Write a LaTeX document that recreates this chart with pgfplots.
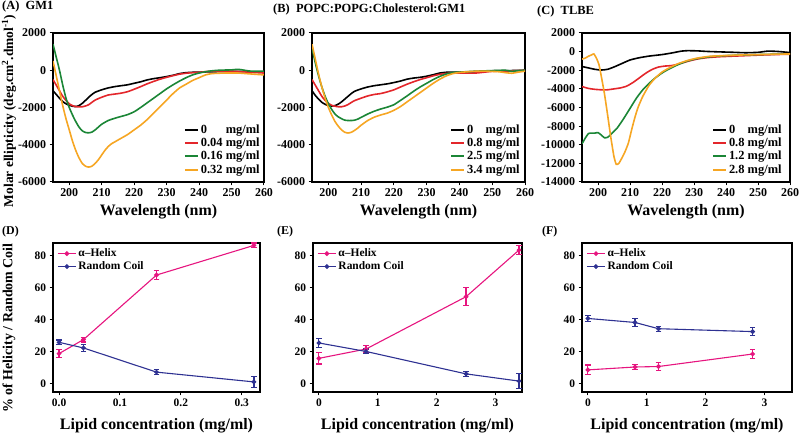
\documentclass[border=0pt]{standalone}
\usepackage{pgfplots}
\pgfplotsset{compat=1.18}
\usepackage{fontspec}
\setmainfont{Liberation Serif}
\definecolor{cdred}{HTML}{E3262B}
\definecolor{cdgreen}{HTML}{1B8636}
\definecolor{cdorange}{HTML}{F6A623}
\definecolor{helix}{HTML}{E6157F}
\definecolor{coil}{HTML}{2E3192}
\pgfplotsset{
  base/.style={scale only axis, axis line style={line width=1.3bp},
    tick style={line width=1bp, black}, tick align=outside, major tick length=3.5bp,
    xtick pos=bottom, ytick pos=left, scaled y ticks=false, scaled x ticks=false,
    /pgf/number format/assume math mode=true, /pgf/number format/1000 sep={},
    clip=true},
  cd/.style={base, width=211bp, height=149bp, xmin=195, xmax=260,
    xtick={200,210,...,260},
    ticklabel style={font=\fontsize{12}{13}\selectfont\bfseries},
    legend cell align=left,
    legend style={draw=none, fill=none, font=\fontsize{12.5}{12.5}\selectfont\bfseries,
      anchor=south east, inner sep=0pt, row sep=-0.8bp},
    legend image code/.code={\draw[#1, line width=2bp] (0bp,0bp) -- (13bp,0bp);},
    every axis plot/.append style={line width=1.6bp, smooth, tension=0.35}},
  frac/.style={base, width=209bp, height=149bp, ymin=-5, ymax=88,
    ytick={0,20,...,80},
    ticklabel style={font=\fontsize{11.5}{13}\selectfont\bfseries},
    legend cell align=left,
    legend style={draw=none, fill=none, font=\fontsize{11.5}{12}\selectfont\bfseries,
      at={(0.02,0.975)}, anchor=north west, inner sep=0pt, row sep=-0.5bp},
    legend image code/.code={\draw[mark repeat=2,mark phase=2,#1] plot coordinates {(0bp,0bp) (9bp,0bp) (18bp,0bp)};},
    every axis plot/.append style={line width=1.1bp, mark=*, mark size=1.8bp,
      error bars/y dir=both, error bars/y explicit,
      error bars/error bar style={line width=1.2bp},
      error bars/error mark options={rotate=90, mark size=2.8bp, line width=1.2bp}}},
}
\begin{document}
\begin{tikzpicture}[x=1bp,y=1bp]
\path[use as bounding box] (0,0) rectangle (800,435);
% ---------------- (A)
\begin{axis}[cd, at={(53bp,253bp)}, anchor=south west, ymin=-6000, ymax=2000,
  ytick={-6000,-4000,...,2000}, legend style={at={(0.99,0.035)}}]
\addplot[black] coordinates {(195,-1100) (196,-1300) (197,-1500) (198,-1680) (199,-1800) (200,-1880) (201,-1930) (202,-1950) (203,-1900) (204,-1780) (205,-1620) (206,-1450) (207,-1300) (208,-1180) (210,-1050) (212,-950) (214,-880) (216,-830) (218,-780) (220,-700) (222,-620) (224,-520) (226,-450) (228,-400) (230,-340) (232,-270) (234,-180) (236,-130) (238,-110) (240,-100) (245,-80) (250,-60) (255,-80) (260,-100)};
\addplot[cdred] coordinates {(195,-500) (196,-800) (197,-1100) (198,-1400) (199,-1620) (200,-1800) (201,-1900) (202,-1950) (203,-1970) (204,-1960) (205,-1920) (206,-1850) (207,-1720) (208,-1600) (210,-1450) (212,-1330) (214,-1280) (216,-1230) (218,-1150) (220,-1020) (222,-880) (224,-730) (226,-600) (228,-480) (230,-380) (232,-290) (234,-210) (236,-160) (238,-130) (240,-110) (243,-60) (246,-40) (250,-50) (255,-100) (260,-150)};
\addplot[cdgreen] coordinates {(195,1400) (196,700) (197,0) (198,-800) (199,-1500) (200,-2000) (201,-2400) (202,-2750) (203,-3050) (204,-3250) (205,-3340) (206,-3360) (207,-3320) (208,-3200) (209,-3050) (210,-2900) (212,-2700) (214,-2580) (216,-2480) (218,-2380) (220,-2230) (222,-2000) (224,-1750) (226,-1500) (228,-1250) (230,-1000) (232,-780) (234,-580) (236,-400) (238,-250) (240,-150) (243,-50) (246,0) (250,20) (252,50) (254,0) (256,-50) (260,-50)};
\addplot[cdorange] coordinates {(195,500) (196,-300) (197,-1100) (198,-1900) (199,-2600) (200,-3200) (201,-3800) (202,-4300) (203,-4700) (204,-5000) (205,-5150) (206,-5200) (207,-5150) (208,-5000) (209,-4800) (210,-4550) (211,-4300) (212,-4100) (213,-3950) (214,-3850) (216,-3650) (218,-3450) (220,-3200) (222,-2950) (224,-2650) (226,-2300) (228,-1950) (230,-1600) (232,-1250) (234,-950) (236,-750) (238,-550) (240,-400) (242,-250) (244,-180) (248,-150) (252,-150) (256,-200) (260,-250)};
\legend{0\phantom{.00} mg/ml, 0.04 mg/ml, 0.16 mg/ml, 0.32 mg/ml}
\end{axis}
% ---------------- (B)
\begin{axis}[cd, at={(312bp,253bp)}, anchor=south west, width=213bp, ymin=-6000, ymax=2000,
  ytick={-6000,-4000,...,2000}, legend style={at={(0.985,0.035)}}]
\addplot[black] coordinates {(195,-1100) (196,-1350) (197,-1550) (198,-1720) (199,-1830) (200,-1900) (201,-1920) (202,-1900) (203,-1820) (204,-1700) (205,-1550) (206,-1400) (207,-1250) (208,-1130) (210,-1000) (212,-900) (214,-830) (216,-780) (218,-730) (220,-660) (222,-580) (224,-480) (226,-420) (228,-380) (230,-320) (232,-240) (234,-150) (236,-110) (238,-100) (240,-100) (245,-80) (250,-30) (255,-20) (260,0)};
\addplot[cdred] coordinates {(195,-500) (196,-800) (197,-1100) (198,-1400) (199,-1620) (200,-1780) (201,-1880) (202,-1930) (203,-1960) (204,-1960) (205,-1920) (206,-1840) (207,-1730) (208,-1630) (210,-1500) (212,-1380) (214,-1300) (216,-1250) (218,-1160) (220,-1050) (222,-900) (224,-750) (226,-620) (228,-500) (230,-400) (232,-300) (234,-220) (236,-170) (238,-150) (240,-150) (245,-150) (250,-60) (255,-40) (260,0)};
\addplot[cdgreen] coordinates {(195,1200) (196,400) (197,-300) (198,-900) (199,-1400) (200,-1800) (201,-2100) (202,-2350) (203,-2500) (204,-2600) (205,-2680) (206,-2700) (207,-2700) (208,-2680) (209,-2620) (210,-2530) (212,-2350) (214,-2200) (216,-2080) (218,-1980) (220,-1850) (222,-1620) (224,-1380) (226,-1130) (228,-900) (230,-700) (232,-500) (234,-330) (236,-200) (238,-120) (240,-100) (245,-50) (250,-20) (254,0) (256,-60) (258,-20) (260,0)};
\addplot[cdorange] coordinates {(195,1400) (196,600) (197,-200) (198,-900) (199,-1500) (200,-2000) (201,-2400) (202,-2750) (203,-3000) (204,-3200) (205,-3330) (206,-3370) (207,-3330) (208,-3230) (209,-3100) (210,-2950) (212,-2700) (214,-2520) (216,-2400) (218,-2300) (220,-2150) (222,-1950) (224,-1700) (226,-1450) (228,-1200) (230,-950) (232,-700) (234,-480) (236,-300) (238,-180) (240,-120) (244,-60) (248,-50) (252,-80) (254,-130) (256,-160) (258,-100) (260,-50)};
\legend{0\phantom{.8} mg/ml, 0.8 mg/ml, 2.5 mg/ml, 3.4 mg/ml}
\end{axis}
% ---------------- (C)
\begin{axis}[cd, at={(582bp,253bp)}, anchor=south west, width=208bp, ymin=-14000, ymax=2000,
  ytick={-14000,-12000,...,2000}, legend style={at={(0.97,0.035)}}]
\addplot[black] coordinates {(195,-1600) (197,-1750) (199,-1900) (201,-1980) (203,-1900) (205,-1650) (207,-1350) (210,-900) (213,-650) (216,-480) (220,-320) (223,-150) (226,50) (228,100) (231,80) (234,20) (238,-30) (242,-70) (246,-120) (250,-80) (253,50) (256,20) (260,-100)};
\addplot[cdred] coordinates {(195,-3750) (197,-3950) (199,-4050) (201,-4100) (203,-4100) (205,-4000) (207,-3900) (209,-3700) (211,-3300) (213,-2800) (215,-2300) (217,-1900) (219,-1650) (221,-1550) (223,-1500) (225,-1350) (228,-1050) (231,-800) (234,-650) (238,-550) (245,-450) (250,-380) (255,-320) (260,-280)};
\addplot[cdgreen] coordinates {(195,-9900) (196,-9300) (197,-8800) (198,-8750) (199,-8750) (200,-8700) (201,-8950) (202,-9250) (203,-9200) (204,-8900) (206,-8200) (208,-7200) (210,-6100) (212,-5000) (214,-4100) (216,-3400) (218,-2800) (220,-2300) (222,-1900) (225,-1400) (228,-1000) (231,-750) (235,-550) (240,-430) (245,-370) (250,-320) (255,-280) (260,-250)};
\addplot[cdorange] coordinates {(195,-800) (196,-700) (197,-500) (198,-350) (198.7,-250) (199.5,-700) (200.3,-1400) (201,-2600) (202,-4500) (203,-6800) (204,-9200) (205,-11300) (205.7,-12100) (206.5,-12000) (207.5,-11400) (208.5,-10700) (209.5,-9800) (210.5,-8400) (211.5,-7100) (212.5,-6000) (214,-4800) (216,-3600) (218,-2800) (220,-2200) (222,-1800) (225,-1300) (228,-950) (231,-700) (235,-500) (240,-420) (245,-360) (250,-320) (255,-280) (260,-250)};
\legend{0\phantom{.8} mg/ml, 0.8 mg/ml, 1.2 mg/ml, 2.8 mg/ml}
\end{axis}
% ---------------- (D)
\begin{axis}[frac, at={(53bp,43bp)}, anchor=south west, width=207bp, xmin=-0.01, xmax=0.33,
  xtick={0,0.1,0.2,0.3}, xticklabel style={/pgf/number format/fixed, /pgf/number format/fixed zerofill, /pgf/number format/precision=1}]
\addplot[helix, mark options={fill=helix}] coordinates {(0,19) +- (0,2.5) (0.04,27.7) +- (0,1.5) (0.16,68) +- (0,3) (0.32,86.5) +- (0,1.5)};
\addplot[coil, mark options={fill=coil}] coordinates {(0,26) +- (0,1.5) (0.04,22.5) +- (0,2) (0.16,7.4) +- (0,1.5) (0.32,1.3) +- (0,3.5)};
\legend{α–Helix, Random Coil}
\end{axis}
% ---------------- (E)
\begin{axis}[frac, at={(313bp,43bp)}, anchor=south west, xmin=-0.1, xmax=3.45, xtick={0,1,2,3}]
\addplot[helix, mark options={fill=helix}] coordinates {(0,16) +- (0,3.5) (0.8,21.8) +- (0,2) (2.5,54.5) +- (0,5.5) (3.4,83.6) +- (0,3)};
\addplot[coil, mark options={fill=coil}] coordinates {(0,25.6) +- (0,3) (0.8,20.3) +- (0,1.5) (2.5,6.3) +- (0,1.5) (3.4,1.8) +- (0,4.5)};
\legend{α–Helix, Random Coil}
\end{axis}
% ---------------- (F)
\begin{axis}[frac, at={(582bp,43bp)}, anchor=south west, width=210bp, xmin=-0.1, xmax=3.47, xtick={0,1,2,3}]
\addplot[helix, mark options={fill=helix}] coordinates {(0,8.8) +- (0,3) (0.8,10.6) +- (0,1.5) (1.2,10.9) +- (0,2.5) (2.8,18.7) +- (0,3)};
\addplot[coil, mark options={fill=coil}] coordinates {(0,40.9) +- (0,2) (0.8,38.4) +- (0,2.5) (1.2,34.5) +- (0,1.5) (2.8,32.7) +- (0,2.5)};
\legend{α–Helix, Random Coil}
\end{axis}
% ---------------- labels
\begin{scope}[every node/.style={inner sep=0pt}]
\node[anchor=base] at (158.5,219) {\fontsize{16}{18}\selectfont\bfseries Wavelength (nm)};
\node[anchor=base] at (418.5,219) {\fontsize{16}{18}\selectfont\bfseries Wavelength (nm)};
\node[anchor=base] at (686,219) {\fontsize{16}{18}\selectfont\bfseries Wavelength (nm)};
\node[anchor=base] at (156.5,5) {\fontsize{16}{18}\selectfont\bfseries Lipid concentration (mg/ml)};
\node[anchor=base] at (417.5,5) {\fontsize{16}{18}\selectfont\bfseries Lipid concentration (mg/ml)};
\node[anchor=base] at (687,5) {\fontsize{16}{18}\selectfont\bfseries Lipid concentration (mg/ml)};
\node[rotate=90] at (9,324) {\fontsize{13.5}{16}\selectfont\bfseries Molar ellipticity (deg.cm\textsuperscript{2}.dmol\textsuperscript{-1})};
\node[rotate=90] at (9,107) {\fontsize{14}{16}\selectfont\bfseries \% of Helicity / Random Coil};
\node[anchor=base west] at (2,425) {\fontsize{12.5}{14}\selectfont\bfseries (A)\enspace GM1};
\node[anchor=base west] at (273,422) {\fontsize{12.5}{14}\selectfont\bfseries (B)\enspace POPC:POPG:Cholesterol:GM1};
\node[anchor=base west] at (537,420) {\fontsize{12.5}{14}\selectfont\bfseries (C)\enspace TLBE};
\node[anchor=base west] at (2,200) {\fontsize{12}{14}\selectfont\bfseries (D)};
\node[anchor=base west] at (277,200) {\fontsize{12}{14}\selectfont\bfseries (E)};
\node[anchor=base west] at (542,200) {\fontsize{12}{14}\selectfont\bfseries (F)};
\end{scope}
\end{tikzpicture}
\end{document}
